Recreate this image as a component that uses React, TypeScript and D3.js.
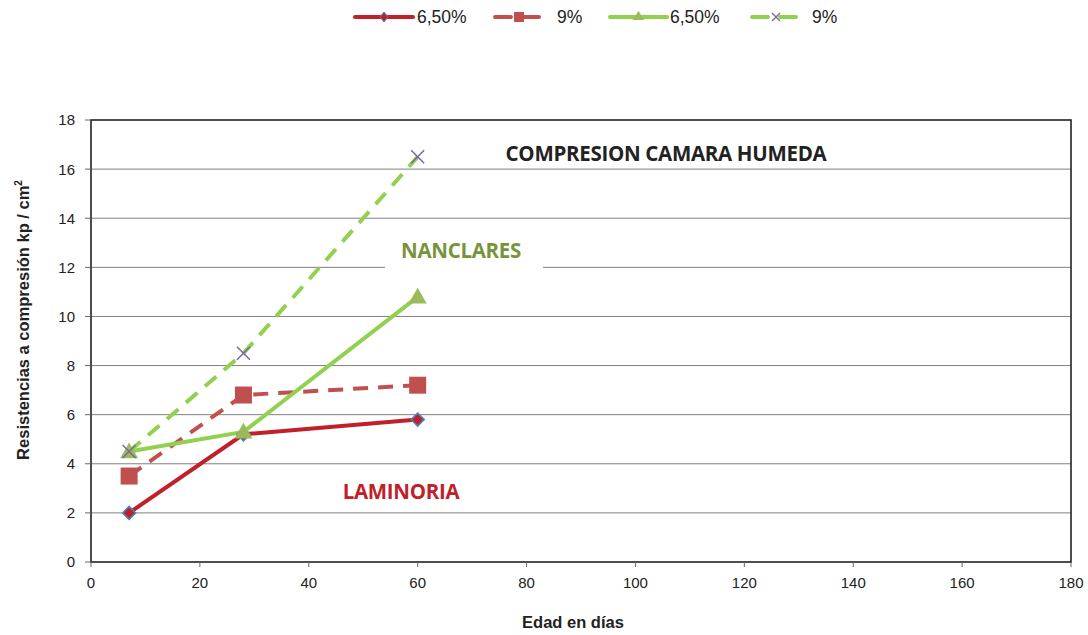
import React from "react";
import * as d3 from "d3";

const days = [7, 28, 60];
const lamin65 = [2, 5.2, 5.8];
const lamin9 = [3.5, 6.8, 7.2];
const nancl65 = [4.5, 5.3, 10.8];
const nancl9 = [4.5, 8.5, 16.5];
const xTicks = [0, 20, 40, 60, 80, 100, 120, 140, 160, 180];
const yTicks = [0, 2, 4, 6, 8, 10, 12, 14, 16, 18];
const legendLabels = ["6,50%", "9%", "6,50%", "9%"];

const W = 1088, H = 635;
const L = 91, R = 1071, T = 120, B = 562;

type Marker = "diamond" | "square" | "triangle" | "x";

function MarkerShape({ kind, x, y }: { kind: Marker; x: number; y: number }) {
  if (kind === "diamond") {
    const s = 6.5;
    return <path d={`M${x},${y - s}L${x + s},${y}L${x},${y + s}L${x - s},${y}Z`} fill="#C0202A" stroke="#4F81BD" strokeWidth={1.6} />;
  }
  if (kind === "square") {
    const s = 8.5;
    return <rect x={x - s} y={y - s} width={2 * s} height={2 * s} fill="#C0504D" />;
  }
  if (kind === "triangle") {
    const s = 9;
    return <path d={`M${x},${y - s}L${x + s},${y + s * 0.75}L${x - s},${y + s * 0.75}Z`} fill="#9BBB59" />;
  }
  const s = 6.5;
  return <path d={`M${x - s},${y - s}L${x + s},${y + s}M${x + s},${y - s}L${x - s},${y + s}`} stroke="#8064A2" strokeWidth={1.5} fill="none" />;
}

export default function App() {
  const x = d3.scaleLinear().domain([0, 180]).range([L, R]);
  const y = d3.scaleLinear().domain([0, 18]).range([B, T]);
  const line = d3.line<[number, number]>().x(d => x(d[0])).y(d => y(d[1]));

  const series = [
    { vals: lamin65, color: "#C0202A", dash: undefined as string | undefined, marker: "diamond" as Marker },
    { vals: lamin9, color: "#C0504D", dash: "15 10", marker: "square" as Marker },
    { vals: nancl65, color: "#92D050", dash: undefined, marker: "triangle" as Marker },
    { vals: nancl9, color: "#92D050", dash: "15 10", marker: "x" as Marker },
  ];

  const legendPos = [
    { x1: 355, x2: 413, tx: 417 },
    { x1: 495, x2: 543, tx: 557 },
    { x1: 610, x2: 667, tx: 670 },
    { x1: 752, x2: 800, tx: 812 },
  ];

  const font = "Liberation Sans, Arial, sans-serif";
  const annFont = "Open Sans, sans-serif";

  return (
    <svg width={W} height={H} style={{ position: "absolute", left: 0, top: 0 }} fontFamily={font}>
      <rect width={W} height={H} fill="#fff" />
      {yTicks.filter(t => t > 0 && t < 18).map(t => (
        <line key={t} x1={L} x2={R} y1={y(t)} y2={y(t)} stroke="#808080" strokeWidth={1} />
      ))}
      <rect x={L} y={T} width={R - L} height={B - T} fill="none" stroke="#222" strokeWidth={1.6} />
      {yTicks.map(t => (
        <g key={t}>
          <line x1={L - 6} x2={L} y1={y(t)} y2={y(t)} stroke="#666" strokeWidth={1} />
          <text x={L - 16} y={y(t)} dy="0.36em" textAnchor="end" fontSize={15} fill="#222">{t}</text>
        </g>
      ))}
      {xTicks.map(t => (
        <g key={t}>
          <line x1={x(t)} x2={x(t)} y1={B} y2={B + 5} stroke="#666" strokeWidth={1} />
          <text x={x(t)} y={B + 26} textAnchor="middle" fontSize={15} fill="#222">{t}</text>
        </g>
      ))}
      <text x={573} y={628} textAnchor="middle" fontSize={16.5} fontWeight="bold" fill="#222">Edad en días</text>
      <text transform={`translate(29,320) rotate(-90)`} textAnchor="middle" fontSize={16.5} fontWeight="bold" fill="#222">
        Resistencias a compresión kp / cm<tspan fontSize={10} dy={-7}>2</tspan>
      </text>
      <text x={666} y={161} textAnchor="middle" fontSize={20.5} fontWeight="bold" fill="#222" fontFamily={annFont} letterSpacing={-0.3}>COMPRESION CAMARA HUMEDA</text>
      <rect x={385} y={234} width={158} height={36} fill="#fff" />
      <text x={461} y={258} textAnchor="middle" fontSize={20.5} fontWeight="bold" fill="#77933C" fontFamily={annFont} letterSpacing={-0.3}>NANCLARES</text>
      <text x={401} y={499} textAnchor="middle" fontSize={20.5} fontWeight="bold" fill="#C0202A" fontFamily={annFont} letterSpacing={-0.3}>LAMINORIA</text>
      {series.map((s, i) => (
        <path key={i} d={line(days.map((d, j) => [d, s.vals[j]] as [number, number])) || ""} fill="none" stroke={s.color} strokeWidth={4} strokeDasharray={s.dash} />
      ))}
      {series.map((s, i) => (
        <g key={i}>
          {days.map((d, j) => <MarkerShape key={j} kind={s.marker} x={x(d)} y={y(s.vals[j])} />)}
        </g>
      ))}
      {series.map((s, i) => {
        const p = legendPos[i];
        const mx = (p.x1 + p.x2) / 2;
        return (
          <g key={i}>
            <line x1={p.x1} x2={p.x2} y1={17} y2={17} stroke={s.color} strokeWidth={4} strokeDasharray={s.dash ? "16 12" : undefined} strokeLinecap="round" />
            {s.marker === "diamond" ? (
              <path d={`M${mx},${12}L${mx + 4},${17}L${mx},${22}L${mx - 4},${17}Z`} fill="#C0202A" stroke="#4F81BD" strokeWidth={1} />
            ) : s.marker === "square" ? (
              <rect x={mx - 5} y={12} width={10} height={10} fill="#C0504D" />
            ) : s.marker === "triangle" ? (
              <path d={`M${mx},${11}L${mx + 6},${20}L${mx - 6},${20}Z`} fill="#9BBB59" />
            ) : (
              <path d={`M${mx - 4},${13}L${mx + 4},${21}M${mx + 4},${13}L${mx - 4},${21}`} stroke="#8064A2" strokeWidth={1.3} />
            )}
            <text x={p.tx} y={17} dy="0.36em" fontSize={17.5} fill="#222">{legendLabels[i]}</text>
          </g>
        );
      })}
    </svg>
  );
}
